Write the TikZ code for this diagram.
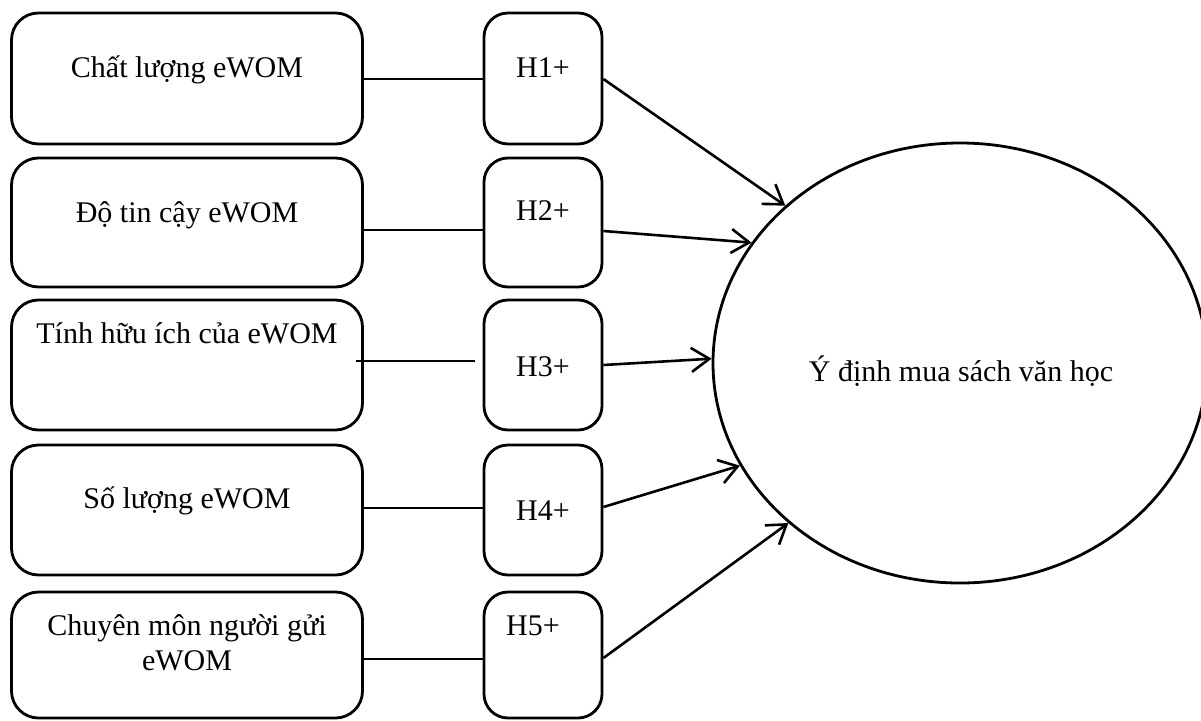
\documentclass[tikz,border=0pt]{standalone}
\usepackage{fontspec}
\setmainfont{Liberation Serif}
\usetikzlibrary{shapes.geometric,arrows.meta,calc}
\begin{document}
\begin{tikzpicture}[x=1pt,y=-1pt,
  factor/.style={draw,rounded corners=27pt,line width=2.8pt,minimum width=351pt,inner sep=0pt},
  hyp/.style={draw,rounded corners=24pt,line width=2.8pt,minimum width=118pt,inner sep=0pt},
  lbl/.style={anchor=base,font=\fontsize{30}{35}\selectfont,inner sep=0pt},
  link/.style={line width=2.2pt},
  effect/.style={line width=2.6pt,-{Straight Barb[length=18pt,width=24pt]}}]
\useasboundingbox (0,0) rectangle (1201,720);

% factor boxes
\node[factor,minimum height=131pt] (b1) at (187,78.5) {};
\node[factor,minimum height=129pt] (b2) at (187,222.5) {};
\node[factor,minimum height=130pt] (b3) at (187,365) {};
\node[factor,minimum height=130pt] (b4) at (187,510) {};
\node[factor,minimum height=126pt] (b5) at (187,655) {};

% hypothesis boxes
\node[hyp,minimum height=131pt] (h1) at (543,78.5) {};
\node[hyp,minimum height=129pt] (h2) at (543,222.5) {};
\node[hyp,minimum height=130pt] (h3) at (543,365) {};
\node[hyp,minimum height=130pt] (h4) at (543,510) {};
\node[hyp,minimum height=126pt] (h5) at (543,655) {};

% dependent construct
\node[draw,ellipse,line width=2.8pt,minimum width=494pt,minimum height=440pt,inner sep=0pt] (e) at (960,363) {};

% labels
\node[lbl] (t1) at (187,77) {Chất lượng eWOM};
\node[lbl] (t2) at (187,222) {Độ tin cậy eWOM};
\node[lbl] (t3) at (187,343) {Tính hữu ích của eWOM};
\node[lbl] (t4) at (187,508) {Số lượng eWOM};
\node[lbl] (t5a) at (187,635) {Chuyên môn người gửi};
\node[lbl] (t5b) at (187,670) {eWOM};

\node[lbl] (l1) at (543,77) {H1+};
\node[lbl] (l2) at (543,220) {H2+};
\node[lbl] (l3) at (543,376) {H3+};
\node[lbl] (l4) at (543,520) {H4+};
\node[lbl] (l5) at (533,635) {H5+};

\node[lbl] (et) at (961,381) {Ý định mua sách văn học};

% links between factors and hypotheses
\draw[link] ($(b1.east)+(0,0.5)$) -- ($(h1.west)+(0,0.5)$);
\draw[link] ($(b2.east)+(0,7.5)$) -- ($(h2.west)+(0,7.5)$);
\draw[link] ($(b3.east)+(-7.5,-4)$) -- ($(h3.west)+(-8,-4)$);
\draw[link] ($(b4.east)+(0,-2)$) -- ($(h4.west)+(0,-2)$);
\draw[link] ($(b5.east)+(0,4)$) -- ($(h5.west)+(0,4)$);

% effects on purchase intention
\draw[effect] ($(h1.east)+(0,0.5)$) -- (e.138.4);
\draw[effect] ($(h2.east)+(0,8.5)$) -- (e.150.7);
\draw[effect] (h3.east) -- (e.179.5);
\draw[effect] ($(h4.east)+(0,-3)$) -- (e.205.3);
\draw[effect] ($(h5.east)+(0,3)$) -- (e.223.6);
\end{tikzpicture}
\end{document}
